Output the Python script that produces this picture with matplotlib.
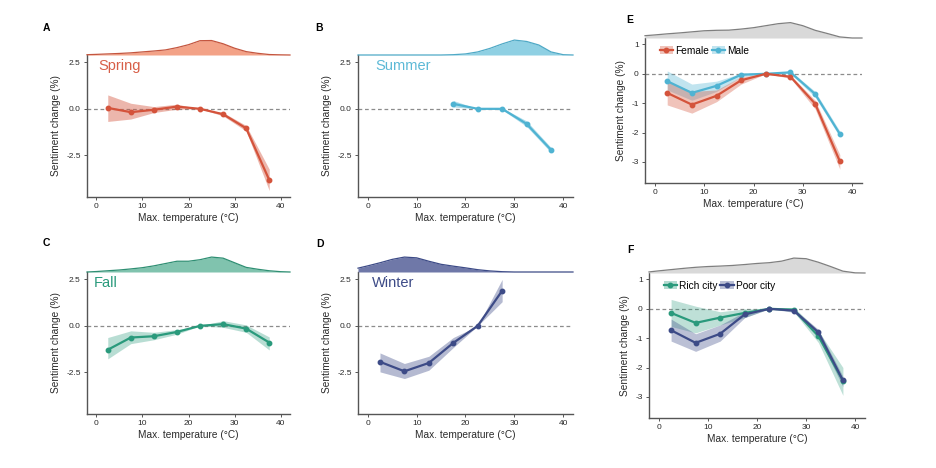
import matplotlib
matplotlib.use('Agg')
import matplotlib.pyplot as plt
from matplotlib.lines import Line2D
from matplotlib.patches import Patch

plt.rcParams['font.family'] = ['Liberation Sans', 'DejaVu Sans']

# bin centres of max. temperature (°C)
temps = [2.5, 7.5, 12.5, 17.5, 22.5, 27.5, 32.5, 37.5]
# grid for the temperature density strips on top
dens_x = [-2, 0, 2.5, 5, 7.5, 10, 12.5, 15, 17.5, 20, 22.5, 25, 27.5, 30,
          32.5, 35, 37.5, 40, 42]

# A - Spring
spring = [0.05, -0.18, -0.05, 0.12, 0.0, -0.29, -1.05, -3.83]
spring_hi = [0.75, 0.3, 0.12, 0.25, 0.0, -0.2, -0.9, -3.25]
spring_lo = [-0.68, -0.55, -0.2, -0.02, 0.0, -0.38, -1.2, -4.4]
spring_dens = [0.02, 0.04, 0.07, 0.1, 0.14, 0.2, 0.26, 0.33, 0.48, 0.67, 0.93,
               0.94, 0.73, 0.44, 0.22, 0.11, 0.03, 0.01, 0.0]

# B - Summer (from 17.5 °C)
summer = [0.27, 0.0, 0.0, -0.81, -2.21]
summer_hi = [0.45, 0.0, 0.05, -0.65, -2.08]
summer_lo = [0.1, 0.0, -0.05, -0.95, -2.35]
summer_dens = [0, 0, 0, 0, 0, 0, 0, 0, 0.02, 0.07, 0.2, 0.43, 0.72, 0.97,
               0.88, 0.65, 0.2, 0.02, 0.0]

# C - Fall
fall = [-1.29, -0.63, -0.56, -0.33, 0.0, 0.09, -0.15, -0.9]
fall_hi = [-0.63, -0.27, -0.35, -0.2, 0.0, 0.28, 0.05, -0.6]
fall_lo = [-1.78, -0.96, -0.75, -0.45, 0.0, -0.08, -0.35, -1.3]
fall_dens = [0.0, 0.03, 0.08, 0.13, 0.2, 0.28, 0.4, 0.55, 0.7, 0.7, 0.8, 0.97,
             0.9, 0.6, 0.3, 0.18, 0.08, 0.02, 0.0]

# D - Winter (up to 27.5 °C)
winter = [-1.94, -2.45, -2.0, -0.92, 0.0, 1.89]
winter_hi = [-1.46, -2.03, -1.64, -0.63, 0.0, 2.5]
winter_lo = [-2.48, -2.84, -2.39, -1.17, 0.0, 1.3]
winter_dens = [0.25, 0.4, 0.6, 0.82, 0.97, 0.92, 0.7, 0.5, 0.38, 0.27, 0.15,
               0.07, 0.02, 0, 0, 0, 0, 0, 0]

# E - gender
female = [-0.65, -1.05, -0.75, -0.22, 0.0, -0.1, -1.02, -2.98]
female_hi = [-0.26, -0.6, -0.55, -0.1, 0.0, -0.05, -0.9, -2.75]
female_lo = [-1.06, -1.34, -0.95, -0.35, 0.0, -0.15, -1.2, -3.25]
male = [-0.25, -0.65, -0.41, -0.03, 0.0, 0.05, -0.69, -2.05]
male_hi = [0.1, -0.35, -0.25, 0.02, 0.0, 0.1, -0.6, -1.95]
male_lo = [-0.55, -0.9, -0.6, -0.1, 0.0, 0.0, -0.8, -2.15]
all_dens_e = [0.15, 0.2, 0.27, 0.33, 0.4, 0.47, 0.5, 0.51, 0.58, 0.67, 0.8,
              0.93, 1.0, 0.8, 0.5, 0.29, 0.07, 0.0, 0.0]

# F - city income
rich = [-0.14, -0.48, -0.3, -0.14, 0.0, -0.03, -0.93, -2.45]
rich_hi = [0.32, 0.09, -0.1, 0.0, 0.0, 0.05, -0.75, -2.0]
rich_lo = [-0.6, -0.82, -0.55, -0.3, 0.0, -0.1, -1.15, -2.95]
poor = [-0.73, -1.16, -0.85, -0.19, 0.0, -0.06, -0.8, -2.44]
poor_hi = [-0.35, -0.85, -0.55, -0.1, 0.0, 0.0, -0.7, -2.3]
poor_lo = [-1.1, -1.45, -1.1, -0.3, 0.0, -0.12, -0.95, -2.65]
all_dens_f = [0.07, 0.14, 0.22, 0.3, 0.37, 0.42, 0.45, 0.49, 0.55, 0.62, 0.67,
              0.77, 0.97, 0.93, 0.7, 0.42, 0.12, 0.01, 0.0]

RED = '#d4533b'
BLUE = '#4fb3d2'
GREEN = '#2a9a7c'
NAVY = '#3d4b87'
GREY = '#2b2b2b'

W, H = 936, 468
fig = plt.figure(figsize=(W / 100, H / 100), dpi=100)


def px_rect(x0, y0, x1, y1):
    # pixel box (top-left origin) -> figure fraction rect
    return [x0 / W, 1 - y1 / H, (x1 - x0) / W, (y1 - y0) / H]


def main_axes(x0, y0, x1, y1, ylim, yticks, ylabels):
    ax = fig.add_axes(px_rect(x0, y0, x1, y1))
    ax.set_xlim(-2, 42)
    ax.set_ylim(*ylim)
    ax.set_xticks([0, 10, 20, 30, 40])
    ax.set_yticks(yticks)
    ax.set_yticklabels(ylabels)
    for s in ['top', 'right']:
        ax.spines[s].set_visible(False)
    for s in ['left', 'bottom']:
        ax.spines[s].set_color('#555555')
        ax.spines[s].set_linewidth(1.0)
    ax.tick_params(length=2.5, width=0.7, labelsize=6, colors='#555555',
                   labelcolor=GREY, pad=2)
    ax.axhline(0, color='#8c8c8c', lw=0.9, ls=(0, (3, 2.2)), zorder=1)
    ax.set_xlabel(u'Max. temperature (°C)', fontsize=7.3, color=GREY, labelpad=2)
    ax.set_ylabel('Sentiment change (%)', fontsize=7.3, color=GREY, labelpad=4)
    return ax


def dens_axes(x0, y0, x1, y1, dens, fill, edge):
    ax = fig.add_axes(px_rect(x0, y0, x1, y1))
    ax.fill_between(dens_x, 0, dens, color=fill, lw=0)
    ax.plot(dens_x, dens, color=edge, lw=0.9, clip_on=False)
    ax.set_xlim(-2, 42)
    ax.set_ylim(0, 1.3)
    ax.set_axis_off()
    return ax


def series(ax, x, y, lo, hi, col, alpha=0.4):
    ax.fill_between(x, lo, hi, color=col, alpha=alpha, lw=0, zorder=2)
    ax.plot(x, y, color=col, lw=1.6, marker='o', ms=3.2, zorder=3)


season_ticks = [-2.5, 0.0, 2.5]
season_labels = ['-2.5', '0.0', '2.5']
season_ylim = (-4.75, 2.9)

# A
axA = main_axes(87, 55, 290, 197, season_ylim, season_ticks, season_labels)
series(axA, temps, spring, spring_lo, spring_hi, RED, 0.42)
axA.text(0.5, 2.32, 'Spring', color='#d75f48', fontsize=10.5, va='center')
dens_axes(87, 35, 290, 55, spring_dens, '#f3a287', '#c4563f')

# B
axB = main_axes(358, 55, 573, 197, season_ylim, season_ticks, season_labels)
series(axB, temps[3:], summer, summer_lo, summer_hi, BLUE, 0.45)
axB.text(1.6, 2.32, 'Summer', color='#5cb9d6', fontsize=10.5, va='center')
dens_axes(358, 35, 573, 55, summer_dens, '#8fd0e3', '#4fa9c6')

# C
axC = main_axes(87, 272, 290, 414, season_ylim, season_ticks, season_labels)
series(axC, temps, fall, fall_lo, fall_hi, GREEN, 0.33)
axC.text(-0.5, 2.3, 'Fall', color=GREEN, fontsize=10.5, va='center')
dens_axes(87, 252, 290, 272, fall_dens, '#80c3ae', '#2f8f73')

# D
axD = main_axes(358, 272, 573, 414, season_ylim, season_ticks, season_labels)
series(axD, temps[:6], winter, winter_lo, winter_hi, NAVY, 0.38)
axD.text(0.75, 2.3, 'Winter', color=NAVY, fontsize=10.5, va='center')
dens_axes(358, 252, 573, 272, winter_dens, '#6f78a8', '#3d4b87')

# E
gen_ticks = [-3, -2, -1, 0, 1]
gen_labels = ['-3', '-2', '-1', '0', '1']
axE = main_axes(645, 38, 862, 183, (-3.72, 1.22), gen_ticks, gen_labels)
series(axE, temps, male, male_lo, male_hi, BLUE, 0.35)
series(axE, temps, female, female_lo, female_hi, RED, 0.35)
dens_axes(645, 18, 862, 38, all_dens_e, '#d9d9d9', '#7f7f7f')
hE = [(Patch(fc=c, alpha=0.35, ec='none'),
       Line2D([], [], color=c, lw=1.6, marker='o', ms=3.2)) for c in [RED, BLUE]]
axE.legend(hE, ['Female', 'Male'], loc='upper left', bbox_to_anchor=(0.04, 0.99),
           ncol=2, frameon=False, fontsize=7.3, handlelength=1.3, handleheight=0.9,
           handletextpad=0.2, columnspacing=0.3, borderaxespad=0.2)

# F
axF = main_axes(649, 273, 865, 418, (-3.72, 1.22), gen_ticks, gen_labels)
series(axF, temps, rich, rich_lo, rich_hi, GREEN, 0.3)
series(axF, temps, poor, poor_lo, poor_hi, NAVY, 0.35)
dens_axes(649, 253, 865, 273, all_dens_f, '#d9d9d9', '#7f7f7f')
hF = [(Patch(fc=c, alpha=0.35, ec='none'),
       Line2D([], [], color=c, lw=1.6, marker='o', ms=3.2)) for c in [GREEN, NAVY]]
axF.legend(hF, ['Rich city', 'Poor city'], loc='upper left',
           bbox_to_anchor=(0.04, 0.99), ncol=2, frameon=False, fontsize=7.3,
           handlelength=1.3, handleheight=0.9, handletextpad=0.2,
           columnspacing=0.3, borderaxespad=0.2)

# panel letters
for lab, x, y in [('A', 46, 28), ('B', 319, 28), ('E', 630, 20),
                  ('C', 46, 243), ('D', 320, 244), ('F', 630, 250)]:
    fig.text(x / W, 1 - y / H, lab, fontsize=7.5, weight='bold',
             ha='center', va='center')

fig.savefig('out.png', dpi=100)
